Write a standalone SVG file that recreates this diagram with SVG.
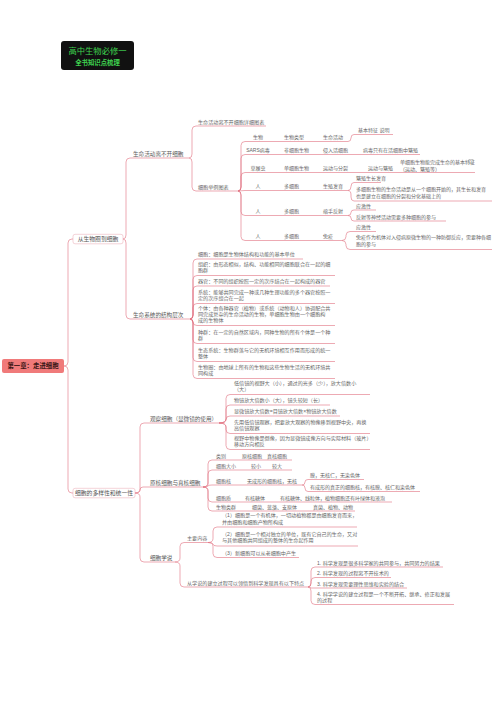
<svg xmlns="http://www.w3.org/2000/svg" width="496" height="701" viewBox="0 0 496 701">
<style>
text{font-family:"Liberation Sans","Noto Sans CJK SC",sans-serif;fill:#666}
.d{font-size:5.1px}
.t{font-size:5px}
.l2{font-size:5.6px;fill:#5a5a5a}
.l1{font-size:5.8px;fill:#555}
.ul{stroke:#e0707f;stroke-width:0.6;fill:none}
.c{stroke:#e0707f;stroke-width:0.6;fill:none}
.m{text-anchor:middle}
</style>
<rect width="496" height="701" fill="#fff"/>
<g id="title">
<rect x="61" y="41" width="73" height="29" rx="3" fill="#111"/>
<text x="97.5" y="54.2" class="m" style="font-size:8.3px;fill:#3fd24f">高中生物必修一</text>
<text x="97.5" y="64.5" class="m" style="font-size:6.4px;font-weight:bold;fill:#3fd24f">全书知识点梳理</text>
</g>
<g id="connectors">
<path class="c" d="M64,366 Q68,366 68,362 L68,243 Q68,239 72,239 L73,239"/>
<path class="c" d="M64,366 Q68,366 68,370 L68,489 Q68,493 72,493 L73,493"/>
<path class="c" d="M123,239 Q126,239 126,235 L126,162 Q126,158 130,158"/>
<path class="c" d="M123,239 Q126,239 126,243 L126,315 Q126,319 130,319"/>
<path class="c" d="M135,493 Q140,493 140,489 L140,427 Q140,423 144,423"/>
<path class="c" d="M135,493 Q140,493 140,490 Q140,487 143,487"/>
<path class="c" d="M135,493 Q140,493 140,497 L140,558 Q140,562 144,562"/>
<path class="c" d="M189,158 Q192,158 192,154 L192,130 Q192,126 196,126"/>
<path class="c" d="M189,158 Q192,158 192,162 L192,187 Q192,191 196,191"/>
<path class="c" d="M238,191 Q241,191 241,187 L241,145.5 Q241,141.5 245,141.5"/>
<path class="c" d="M238,191 Q241,191 241,187 L241,158.5 Q241,154.5 245,154.5"/>
<path class="c" d="M238,191 Q241,191 241,187 L241,176.5 Q241,172.5 245,172.5"/>
<path class="c" d="M238,191 L245,190.5"/>
<path class="c" d="M238,191 Q241,191 241,195 L241,211.5 Q241,215.5 245,215.5"/>
<path class="c" d="M238,191 Q241,191 241,195 L241,236.5 Q241,240.5 245,240.5"/>
<path class="c" d="M348,141.5 Q351,141.5 351,138 Q351,134.5 354,134.5"/>
<path class="c" d="M348,154.5 L354,154.5"/>
<path class="c" d="M348,172.5 L354,172.5"/>
<path class="c" d="M348,190.5 Q351,190.5 351,186.5 Q351,182.5 354,182.5"/>
<path class="c" d="M348,190.5 Q351,190.5 351,195 L351,197 Q351,201 354,201"/>
<path class="c" d="M348,215.5 Q351,215.5 351,212.5 Q351,210 354,210"/>
<path class="c" d="M348,215.5 Q351,215.5 351,218 Q351,221 354,221"/>
<path class="c" d="M342,240.5 Q346,240.5 346,236.5 L346,235.5 Q346,231.5 350,231.5 L354,231.5"/>
<path class="c" d="M342,240.5 Q346,240.5 346,244.5 L346,245.5 Q346,249.5 350,249.5 L354,249.5"/>
<path class="c" d="M190,319 Q193,319 193,315 L193,263 Q193,259 197,259"/>
<path class="c" d="M190,319 Q193,319 193,315 L193,279.5 Q193,275.5 197,275.5"/>
<path class="c" d="M190,319 Q193,319 193,315 L193,290 Q193,286 197,286"/>
<path class="c" d="M190,319 Q193,319 193,315 L193,307.5 Q193,303.5 197,303.5"/>
<path class="c" d="M190,319 Q193,319 193,322 Q193,325.5 197,325.5"/>
<path class="c" d="M190,319 Q193,319 193,323 L193,339.5 Q193,343.5 197,343.5"/>
<path class="c" d="M190,319 Q193,319 193,323 L193,357.5 Q193,361.5 197,361.5"/>
<path class="c" d="M190,319 Q193,319 193,323 L193,374.5 Q193,378.5 197,378.5"/>
<path class="c" d="M219,423 Q226,423 226,419 L226,398.5 Q226,394.5 230,394.5"/>
<path class="c" d="M219,423 Q226,423 226,419 L226,409 Q226,405 230,405"/>
<path class="c" d="M219,423 Q226,423 226,419.5 Q226,416 230,416"/>
<path class="c" d="M219,423 Q226,423 226,427 L226,429.5 Q226,433.5 230,433.5"/>
<path class="c" d="M219,423 Q226,423 226,427 L226,445.5 Q226,449.5 230,449.5"/>
<path class="c" d="M203,487 Q208,487 208,483 L208,464 Q208,460 212,460"/>
<path class="c" d="M203,487 Q208,487 208,483 L208,474 Q208,470 212,470"/>
<path class="c" d="M203,487 Q208,487 208,486 Q208,485 212,485"/>
<path class="c" d="M203,487 Q208,487 208,491 L208,498 Q208,502 212,502"/>
<path class="c" d="M203,487 Q208,487 208,491 L208,507 Q208,511 212,511"/>
<path class="c" d="M302,485 Q305,485 305,482 Q305,479.5 308,479.5"/>
<path class="c" d="M302,485 Q305,485 305,488 Q305,491.5 308,491.5"/>
<path class="c" d="M175,562 Q180,562 180,558 L180,546.5 Q180,542.5 184,542.5"/>
<path class="c" d="M175,562 Q180,562 180,566 L180,583 Q180,587 184,587"/>
<path class="c" d="M208,542.5 Q213,542.5 213,538.5 L213,531 Q213,527 217,527"/>
<path class="c" d="M208,542.5 Q213,542.5 213,544 Q213,546 217,546"/>
<path class="c" d="M208,542.5 Q213,542.5 213,546.5 L213,553.5 Q213,557.5 217,557.5"/>
<path class="c" d="M308,587 Q311,587 311,583 L311,571 Q311,567 315,567"/>
<path class="c" d="M308,587 Q311,587 311,583 L311,581.5 Q311,577.5 315,577.5"/>
<path class="c" d="M308,587 Q311,587 311,588 L315,588"/>
<path class="c" d="M308,587 Q311,587 311,591 L311,600.5 Q311,604.5 315,604.5"/>
</g>
<g id="root">
<rect x="2" y="359" width="62" height="14" rx="2" fill="#f07a7a"/>
<text x="33" y="368.4" class="m" style="font-size:6.4px;font-weight:bold;fill:#3a1515">第一章：走进细胞</text>
</g>
<g id="n-biosphere">
<rect x="73" y="234.3" width="50" height="9.5" rx="2" fill="#fff" stroke="#e8a6b0" stroke-width="0.5"/>
<text x="98" y="241.2" class="l1 m">从生物圈到细胞</text>
</g>
<g id="n-diversity">
<rect x="73" y="488.3" width="62" height="9.5" rx="2" fill="#fff" stroke="#e8a6b0" stroke-width="0.5"/>
<text x="104" y="495.2" class="l1 m">细胞的多样性和统一性</text>
</g>
<g id="n-life-activity">
<text x="133" y="155.5" class="l2">生命活动离不开细胞</text>
<path class="ul" d="M130,158 H189"/>
</g>
<g id="n-life-system">
<text x="133" y="316.5" class="l2">生命系统的结构层次</text>
<path class="ul" d="M130,319 H190"/>
</g>
<g id="n-observe">
<text x="150" y="420.5" class="l2">观察细胞（显微镜的使用）</text>
<path class="ul" d="M144,423 H219"/>
</g>
<g id="n-prokaryote">
<text x="150" y="484.5" class="l2">原核细胞与真核细胞</text>
<path class="ul" d="M143,487 H203"/>
</g>
<g id="n-cell-theory">
<text x="150" y="559.5" class="l2">细胞学说</text>
<path class="ul" d="M144,562 H175"/>
</g>
<g id="n-chart">
<text x="198" y="123.5" class="d">生命活动离不开细胞详细图表</text>
<path class="ul" d="M196,126 H266"/>
</g>
<g id="n-examples">
<text x="198" y="188.5" class="d">细胞举例图表</text>
<path class="ul" d="M196,191 H238"/>
</g>
<g id="n-row-header">
<text x="258" y="139.3" class="t m">生物</text><text x="284" y="139.3" class="t">生物类型</text><text x="323" y="139.3" class="t">生命活动</text>
<path class="ul" d="M245,141.5 H348"/>
</g>
<g id="n-row-sars">
<text x="258" y="152.3" class="t m">SARS病毒</text><text x="284" y="152.3" class="t">非细胞生物</text><text x="323" y="152.3" class="t">侵入活细胞</text>
<path class="ul" d="M245,154.5 H348"/>
</g>
<g id="n-row-para">
<text x="258" y="170.3" class="t m">草履虫</text><text x="284" y="170.3" class="t">单细胞生物</text><text x="323" y="170.3" class="t">运动与分裂</text>
<path class="ul" d="M245,172.5 H348"/>
</g>
<g id="n-row-human1">
<text x="258" y="188.3" class="t m">人</text><text x="284" y="188.3" class="t">多细胞</text><text x="323" y="188.3" class="t">生殖发育</text>
<path class="ul" d="M245,190.5 H348"/>
</g>
<g id="n-row-human2">
<text x="258" y="213.3" class="t m">人</text><text x="284" y="213.3" class="t">多细胞</text><text x="323" y="213.3" class="t">缩手反射</text>
<path class="ul" d="M245,215.5 H348"/>
</g>
<g id="n-row-human3">
<text x="258" y="238.3" class="t m">人</text><text x="284" y="238.3" class="t">多细胞</text><text x="323" y="238.3" class="t">免疫</text>
<path class="ul" d="M245,240.5 H342"/>
</g>
<g id="n-feature">
<text x="358" y="132.2" class="t">基本特征 说明</text>
<path class="ul" d="M354,134.5 H393"/>
</g>
<g id="n-virus">
<text x="363" y="152.3" class="t">病毒只有在活细胞中繁殖</text>
<path class="ul" d="M354,154.5 H420"/>
</g>
<g id="n-para-move">
<text x="368" y="170.3" class="t">运动与繁殖</text>
<path class="ul" d="M354,172.5 H396"/>
</g>
<g id="n-para-note">
<text x="400" y="164" class="t">单细胞生物能完成生命的基本特征</text>
<text x="400" y="170.5" class="t">（运动、繁殖等）</text>
<rect x="469" y="159.5" width="4" height="4" fill="none" stroke="#888" stroke-width="0.4"/>
<path class="ul" d="M396,172.5 H475"/>
</g>
<g id="n-grow">
<text x="356" y="180.2" class="t">繁殖生长发育</text>
<path class="ul" d="M354,182.5 H381"/>
</g>
<g id="n-grow-note">
<text x="356" y="190.6" class="t">多细胞生物的生命活动是从一个细胞开始的，其生长和发育</text>
<text x="356" y="197.6" class="t">也是建立在细胞的分裂和分化基础上的</text>
<path class="ul" d="M354,201 H492"/>
</g>
<g id="n-reflex1">
<text x="356" y="207.7" class="t">应激性</text>
<path class="ul" d="M354,210 H376"/>
</g>
<g id="n-reflex2">
<text x="356" y="218.6" class="t">反射等神经活动需要多种细胞的参与</text>
<path class="ul" d="M354,221 H446"/>
</g>
<g id="n-immune1">
<text x="356" y="229.2" class="t">应激性</text>
<path class="ul" d="M354,231.5 H376"/>
</g>
<g id="n-immune2">
<text x="356" y="239.2" class="t">免疫作为机体对入侵病原微生物的一种防御反应，需要种各细</text>
<text x="356" y="246.2" class="t">胞的参与</text>
<path class="ul" d="M354,249.5 H492"/>
</g>
<g id="n-cell">
<text x="198" y="256.2" class="d">细胞：细胞是生物体结构和功能的基本单位</text>
<path class="ul" d="M197,259 H303"/>
</g>
<g id="n-tissue">
<text x="198" y="265.8" class="d">组织：由形态相似，结构、功能相同的细胞联合在一起的细</text>
<text x="198" y="272.2" class="d">胞群</text>
<path class="ul" d="M197,275.5 H335"/>
</g>
<g id="n-organ">
<text x="198" y="283.2" class="d">器官：不同的组织按照一定的次序结合在一起构成的器官</text>
<path class="ul" d="M197,286 H330"/>
</g>
<g id="n-system">
<text x="198" y="293.8" class="d">系统：能够共同完成一种或几种生理功能的多个器官按照一</text>
<text x="198" y="300.2" class="d">定的次序组合在一起</text>
<path class="ul" d="M197,303.5 H335"/>
</g>
<g id="n-individual">
<text x="198" y="309.8" class="d">个体：由各种器官（植物）或系统（动物和人）协调配合共</text>
<text x="198" y="316.1" class="d">同完成复杂的生命活动的生物，单细胞生物由一个细胞构</text>
<text x="198" y="322.4" class="d">成的生物体</text>
<path class="ul" d="M197,325.5 H335"/>
</g>
<g id="n-population">
<text x="198" y="333.8" class="d">种群：在一定的自然区域内，同种生物的所有个体是一个种</text>
<text x="198" y="340.1" class="d">群</text>
<path class="ul" d="M197,343.5 H335"/>
</g>
<g id="n-ecosystem">
<text x="198" y="351.8" class="d">生态系统：生物群落与它的无机环境相互作用而形成的统一</text>
<text x="198" y="358.1" class="d">整体</text>
<path class="ul" d="M197,361.5 H335"/>
</g>
<g id="n-biosphere2">
<text x="198" y="369" class="d">生物圈：由地球上所有的生物和这些生物生活的无机环境共</text>
<text x="198" y="375.4" class="d">同构成</text>
<path class="ul" d="M197,378.5 H335"/>
</g>
<g id="n-lowpower">
<text x="234" y="385" class="d">低倍镜的视野大（小），通过的光多（少），放大倍数小</text>
<text x="234" y="391.4" class="d">（大）</text>
<path class="ul" d="M230,394.5 H370"/>
</g>
<g id="n-objective">
<text x="234" y="402.2" class="d">物镜放大倍数小（大），镜头较短（长）</text>
<path class="ul" d="M230,405 H330"/>
</g>
<g id="n-magnify">
<text x="234" y="413.2" class="d">显微镜放大倍数=目镜放大倍数×物镜放大倍数</text>
<path class="ul" d="M230,416 H340"/>
</g>
<g id="n-first-low">
<text x="234" y="424" class="d">先用低倍镜观察，把要放大观察的物像移到视野中央，再换</text>
<text x="234" y="430.4" class="d">高倍镜观察</text>
<path class="ul" d="M230,433.5 H370"/>
</g>
<g id="n-inverted">
<text x="234" y="440" class="d">视野中物像是倒像，因为显微镜成像方向与实际材料（玻片）</text>
<text x="234" y="446.4" class="d">移动方向相反</text>
<path class="ul" d="M230,449.5 H370"/>
</g>
<g id="n-pk-head">
<text x="216" y="458" class="t">类别</text><text x="242" y="458" class="t">原核细胞</text><text x="267" y="458" class="t">真核细胞</text>
<path class="ul" d="M212,460 H292"/>
</g>
<g id="n-pk-size">
<text x="216" y="468" class="t">细胞大小</text><text x="251" y="468" class="t">较小</text><text x="272" y="468" class="t">较大</text>
<path class="ul" d="M212,470 H292"/>
</g>
<g id="n-pk-nucleus">
<text x="216" y="483" class="t">细胞核</text><text x="247" y="483" class="t">无成形的细胞核，无核</text>
<path class="ul" d="M212,485 H302"/>
</g>
<g id="n-pk-nuc1">
<text x="310" y="477.3" class="t">膜，无核仁，无染色体</text>
<path class="ul" d="M308,479.5 H364"/>
</g>
<g id="n-pk-nuc2">
<text x="310" y="489.3" class="t">有成形的真正的细胞核，有核膜、核仁和染色体</text>
<path class="ul" d="M308,491.5 H420"/>
</g>
<g id="n-pk-cyto">
<text x="216" y="500" class="t">细胞质</text><text x="245" y="500" class="t">有核糖体</text><text x="280" y="500" class="t">有核糖体、线粒体，植物细胞还有叶绿体和液泡</text>
<path class="ul" d="M212,502 H392"/>
</g>
<g id="n-pk-group">
<text x="216" y="509" class="t">生物类群</text><text x="252" y="509" class="t">细菌、蓝藻、支原体</text><text x="313" y="509" class="t">真菌、植物、动物</text>
<path class="ul" d="M212,511 H355"/>
</g>
<g id="n-main">
<text x="187" y="540.2" class="d">主要内容</text>
<path class="ul" d="M184,542.5 H208"/>
</g>
<g id="n-main1">
<text x="222" y="517.2" class="d">（1）细胞是一个有机体，一切动植物都是由细胞发育而来，</text>
<text x="222" y="523.6" class="d">并由细胞和细胞产物所构成</text>
<path class="ul" d="M217,527 H357"/>
</g>
<g id="n-main2">
<text x="222" y="536" class="d">（2）细胞是一个相对独立的单位，既有它自己的生命，又对</text>
<text x="222" y="542.4" class="d">与其他细胞共同组成的整体的生命起作用</text>
<path class="ul" d="M217,546 H358"/>
</g>
<g id="n-main3">
<text x="222" y="555" class="d">（3）新细胞可以从老细胞中产生</text>
<path class="ul" d="M217,557.5 H299"/>
</g>
<g id="n-feature-discovery">
<text x="187" y="584.5" class="d">从学说的建立过程可以领悟到科学发现具有以下特点</text>
<path class="ul" d="M184,587 H308"/>
</g>
<g id="n-f1">
<text x="317" y="564.5" class="d">1. 科学发现是很多科学家的共同参与，共同努力的结果</text>
<path class="ul" d="M315,567 H443"/>
</g>
<g id="n-f2">
<text x="317" y="575" class="d">2. 科学发现的过程离不开技术的</text>
<path class="ul" d="M315,577.5 H391"/>
</g>
<g id="n-f3">
<text x="317" y="585.5" class="d">3. 科学发现需要理性思维和实验的结合</text>
<path class="ul" d="M315,588 H407"/>
</g>
<g id="n-f4">
<text x="317" y="595.5" class="d">4. 科学学说的建立过程是一个不断开拓、继承、修正和发展</text>
<text x="317" y="601.8" class="d">的过程</text>
<path class="ul" d="M315,604.5 H454"/>
</g>
</svg>
